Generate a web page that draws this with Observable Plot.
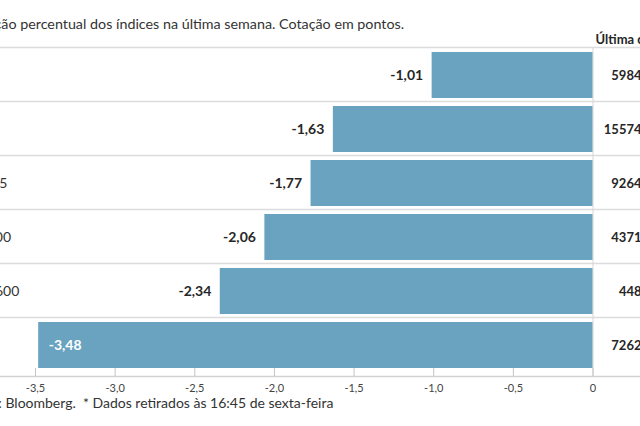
<!DOCTYPE html>
<html><head><meta charset="utf-8">
<script src="https://cdn.jsdelivr.net/npm/d3@7"></script>
<script src="https://cdn.jsdelivr.net/npm/@observablehq/plot@0.6"></script>
<style>
html,body{margin:0;padding:0;background:#fff;}
#wrap{position:relative;width:640px;height:426px;overflow:hidden;font-family:Lato, sans-serif;color:#333;}
#chart{position:absolute;left:-60px;top:0;width:780px;}
#chart svg{max-width:none;}
#sub{position:absolute;left:-37px;top:16px;font-size:14.3px;white-space:nowrap;line-height:16px;}
#src{position:absolute;left:-37px;top:395px;font-size:14px;white-space:nowrap;line-height:16px;}
</style></head>
<body>
<div id="wrap">
  <div id="chart"></div>
  <div id="sub">Variação percentual dos índices na última semana. Cotação em pontos.</div>
  <div id="src">Fonte: Bloomberg.&nbsp; * Dados retirados às 16:45 de sexta-feira</div>
</div>
<script>
const indices = ["PSI", "DAX", "IBEX 35", "S&P 500", "Stoxx 600", "FTSE"];
const variacao = [-1.01, -1.63, -1.77, -2.06, -2.34, -3.48];
const cotacao = ["5984", "15574", "9264", "4371", "448", "7262"];
const ticks = [-3.5, -3, -2.5, -2, -1.5, -1, -0.5, 0];
const header = ["Última cotação*"];

const data = indices.map((d, i) => ({indice: d, valor: variacao[i], cotacao: cotacao[i]}));
const fmt = v => v.toFixed(2).replace(".", ",");
const tickFmt = v => v === 0 ? "0" : v.toFixed(1).replace(".", ",");

const W = 780, H = 426, frameTop = 47, frameBottom = 376;
const yRange = [48, 372];
const step = (yRange[1] - yRange[0]) / indices.length;

const chart = Plot.plot({
  width: W, height: H,
  marginTop: frameTop, marginBottom: H - frameBottom, marginLeft: 0, marginRight: 0,
  x: {domain: [-3.5, 0], range: [95, 652.5], label: null},
  y: {domain: indices, range: yRange, paddingInner: 0.148, paddingOuter: 0.074, round: false, axis: null},
  style: {fontFamily: "Lato, sans-serif", color: "#333", background: "transparent"},
  marks: [
    Plot.ruleY(indices, {y: d => d, dy: -step / 2 - 1, stroke: "#dcdcdc", strokeWidth: 1.5}),
    Plot.frame({anchor: "bottom", stroke: "#d2d2d2", strokeWidth: 1.5}),
    Plot.ruleX([0], {stroke: "#d6d6d6"}),
    Plot.barX(data, {x: "valor", y: "indice", fill: "#6aa3bf"}),
    Plot.tickX(ticks, {x: d => d, insetTop: frameBottom - frameTop - 8, stroke: "#c4c4c4"}),
    Plot.axisX(ticks, {tickSize: 0, tickPadding: 8, tickFormat: tickFmt, fontSize: 11, fill: "#444", label: null}),
    Plot.text(data.filter(d => d.valor > -3), {x: "valor", y: "indice", text: d => fmt(d.valor), textAnchor: "end", dx: -9, fontWeight: "bold", fontSize: 14, fill: "#262626"}),
    Plot.text(data.filter(d => d.valor <= -3), {x: "valor", y: "indice", text: d => fmt(d.valor), textAnchor: "start", dx: 10, fontWeight: "bold", fontSize: 14, fill: "white"}),
    Plot.text(data, {y: "indice", text: "indice", frameAnchor: "left", dx: 17, textAnchor: "start", fontSize: 14, fill: "#333"}),
    Plot.text(data, {y: "indice", text: "cotacao", frameAnchor: "right", dx: -79, textAnchor: "end", fontWeight: "bold", fontSize: 13, fill: "#262626"}),
    Plot.text(header, {text: d => d, frameAnchor: "top-left", dx: 655, dy: -4, lineAnchor: "bottom", textAnchor: "start", fontWeight: "bold", fontSize: 13, fill: "#262626"})
  ]
});
document.getElementById("chart").appendChild(chart);
</script>
</body></html>
